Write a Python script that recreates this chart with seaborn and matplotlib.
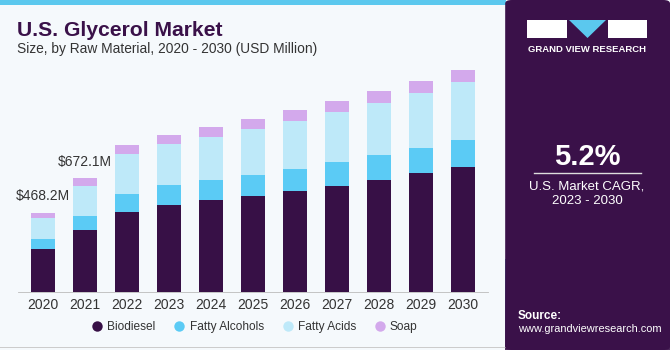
"""U.S. Glycerol Market by raw material, stacked bars"""

import numpy as np
import pandas as pd
import matplotlib
matplotlib.use('Agg')
import matplotlib.pyplot as plt
import seaborn as sns
from matplotlib.patches import Rectangle, Polygon, FancyBboxPatch
from matplotlib.lines import Line2D
from matplotlib.colors import LinearSegmentedColormap

YEARS = ['2020', '2021', '2022', '2023', '2024', '2025', '2026', '2027', '2028', '2029', '2030']
BIODIESEL = [255.0, 366.5, 475.4, 516.8, 542.9, 570.1, 597.9, 629.3, 661.3, 702.7, 741.8]
FATTY_ALCOHOLS = [57.5, 84.5, 106.6, 114.8, 120.2, 124.3, 130.2, 140.3, 148.0, 148.0, 156.3]
FATTY_ACIDS = [128.0, 177.5, 233.2, 242.7, 256.3, 270.5, 284.2, 294.2, 309.6, 325.6, 345.1]
SOAP = [27.7, 43.6, 55.1, 55.1, 55.6, 59.2, 63.3, 68.7, 71.0, 72.8, 72.8]
SEGMENTS = ['Biodiesel', 'Fatty Alcohols', 'Fatty Acids', 'Soap']
LABELS = {'2020': '$468.2M', '2021': '$672.1M'}

COLORS = ['#371046', '#5BCBF5', '#BEE9F9', '#D3A9EC']
BG = '#F5F9FC'
PANEL = '#3A1149'
TEXT = '#333333'

plt.rcParams['font.family'] = ['Liberation Sans', 'DejaVu Sans']

df = pd.DataFrame({'year': YEARS, 'Biodiesel': BIODIESEL, 'Fatty Alcohols': FATTY_ALCOHOLS,
                   'Fatty Acids': FATTY_ACIDS, 'Soap': SOAP})
cum = df[SEGMENTS].cumsum(axis=1)
cum['year'] = df['year']

fig = plt.figure(figsize=(6.7, 3.5), dpi=100)
fig.patch.set_facecolor(BG)

# Background panels ################################################
fig.patches.append(Rectangle((0, 0.985), 0.755, 0.015, transform=fig.transFigure,
                             facecolor='#5BC8EE', edgecolor='none', zorder=0))
fig.patches.append(Rectangle((0, 0.006), 0.755, 0.003, transform=fig.transFigure,
                             facecolor='#CCCCCC', edgecolor='none', zorder=0))
fig.patches.append(FancyBboxPatch((0.754, 0.0), 0.246, 1.0, transform=fig.transFigure,
                                  boxstyle='round,pad=0,rounding_size=0.01',
                                  facecolor=PANEL, edgecolor='none', zorder=0))

# bottom glow of right panel
gax = fig.add_axes([0.754, 0.0, 0.246, 0.26])
grad = np.linspace(0, 1, 100).reshape(-1, 1)
cmap = LinearSegmentedColormap.from_list('g', ['#3D8FC4', '#3B3A7A', PANEL])
gax.imshow(grad, aspect='auto', cmap=cmap, alpha=0.9, extent=(0, 1, 0, 1))
gax.axis('off')

# Bars ################################################
ax = fig.add_axes([17.8 / 670, 58 / 350, 470.4 / 670, 236.5 / 350])
ax.set_facecolor('none')
for seg, color in zip(SEGMENTS[::-1], COLORS[::-1]):
    sns.barplot(ax=ax, data=cum, x='year', y=seg, color=color, width=0.57,
                saturation=1, order=YEARS, edgecolor='none')

for i, year in enumerate(YEARS):
    if year in LABELS:
        top = cum[SEGMENTS[-1]].iloc[i]
        ax.annotate(LABELS[year], (i, top), xytext=(0, 7), textcoords='offset points',
                    ha='center', va='bottom', fontsize=10, color=TEXT)

ax.set_xlim(-0.6, 10.6)
ax.set_ylim(0, 1400)
ax.set_xlabel('')
ax.set_ylabel('')
ax.set_yticks([])
ax.tick_params(axis='x', length=0, pad=4, labelsize=10, labelcolor=TEXT)
for side in ['top', 'right', 'left']:
    ax.spines[side].set_visible(False)
ax.spines['bottom'].set_color('#BBBBBB')
ax.spines['bottom'].set_linewidth(0.6)

# Titles ################################################
fig.text(17 / 670, 1 - 30 / 350, 'U.S. Glycerol Market', fontsize=15.2, fontweight='bold',
         color=PANEL, va='center', ha='left')
fig.text(17 / 670, 1 - 49 / 350, 'Size, by Raw Material, 2020 - 2030 (USD Million)',
         fontsize=9.9, color=TEXT, va='center', ha='left')

# Legend ################################################
handles = [Line2D([], [], marker='o', linestyle='none', markersize=7.5,
                  markerfacecolor=c, markeredgecolor='none') for c in COLORS]
fig.legend(handles, SEGMENTS, loc='center', bbox_to_anchor=(255 / 670, 1 - 327 / 350),
           ncol=4, frameon=False, fontsize=8.6, handlelength=0.8, handletextpad=0.45,
           columnspacing=1.6, labelcolor=TEXT)

# Right panel ################################################
# logo
fig.patches.append(Rectangle((527 / 670, 1 - 38 / 350), 40 / 670, 18 / 350,
                             transform=fig.transFigure, facecolor='white', edgecolor='none'))
fig.patches.append(Polygon([(569 / 670, 1 - 20 / 350), (606 / 670, 1 - 20 / 350),
                            (587.5 / 670, 1 - 38 / 350)], closed=True,
                           transform=fig.transFigure, facecolor='#5BC8EE', edgecolor='none'))
fig.patches.append(Rectangle((608 / 670, 1 - 38 / 350), 39 / 670, 18 / 350,
                             transform=fig.transFigure, facecolor='white', edgecolor='none'))
fig.text(587 / 670, 1 - 50 / 350, 'GRAND VIEW RESEARCH', fontsize=6.8, fontweight='bold',
         color='white', ha='center', va='center')

fig.text(587 / 670, 1 - 157 / 350, '5.2%', fontsize=21, fontweight='bold',
         color='white', ha='center', va='center')
fig.lines.append(Line2D([534 / 670, 641 / 670], [1 - 173 / 350, 1 - 173 / 350],
                        transform=fig.transFigure, color='#DDDDDD', linewidth=1))
fig.text(587 / 670, 1 - 186 / 350, 'U.S. Market CAGR,', fontsize=9.5, color='white',
         ha='center', va='center')
fig.text(587 / 670, 1 - 201 / 350, '2023 - 2030', fontsize=9.5, color='white',
         ha='center', va='center')
fig.text(518 / 670, 1 - 316 / 350, 'Source:', fontsize=8.5, fontweight='bold',
         color='white', ha='left', va='center')
fig.text(518 / 670, 1 - 329 / 350, 'www.grandviewresearch.com', fontsize=7.9,
         color='white', ha='left', va='center')

fig.savefig('out.png', dpi=100, facecolor=BG)
plt.close(fig)
